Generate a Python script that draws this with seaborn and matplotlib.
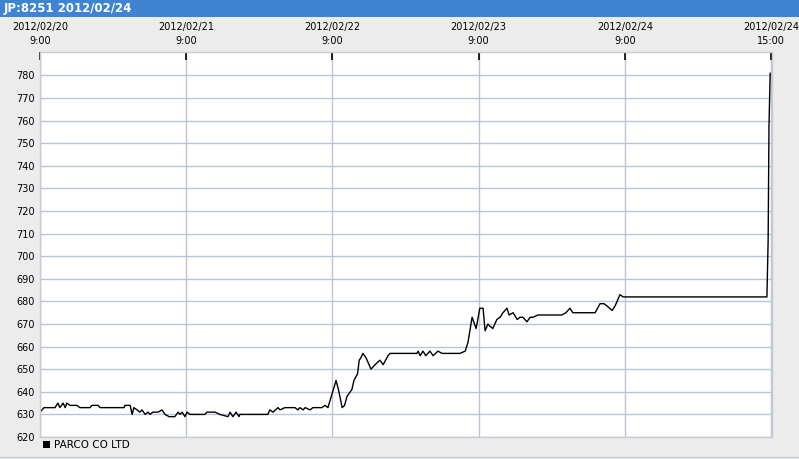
import matplotlib
matplotlib.use("Agg")
import matplotlib.pyplot as plt
import matplotlib.patches as mpatches
import seaborn as sns
import pandas as pd

# Session minutes since 2012/02/20 9:00 (each trading day = 360 minutes, 9:00-15:00)
minutes = [
    0, 10, 37, 44, 49, 57, 62, 66, 74, 91, 98, 123, 128, 143, 148, 207, 209, 222, 227, 231,
    239, 246, 251, 259, 266, 271, 278, 291, 300, 308, 318, 332, 340, 345, 350, 357,
    362, 369, 406, 411, 431, 443, 463, 468, 475, 483, 490, 492, 561, 566, 574, 586, 591,
    603, 628, 635, 640, 648, 653, 665, 672, 694, 702, 709,
    719, 729, 735, 744, 750, 756, 768, 773, 782, 786, 790, 795, 803, 815, 825, 837, 845,
    857, 862, 928, 931, 936, 943, 950, 960, 968, 980, 990, 1034, 1047, 1054, 1064, 1074,
    1083, 1091, 1096, 1103, 1108, 1115, 1125, 1133, 1140, 1150, 1155, 1165, 1175, 1182,
    1189, 1199, 1207, 1214, 1226, 1285, 1295, 1305, 1312, 1325, 1367, 1379, 1389, 1396,
    1409, 1416, 1421, 1428, 1436,
    1441, 1790, 1793, 1795, 1798,
]
prices = [
    631, 633, 633, 635, 633, 635, 633, 635, 634, 634, 633, 633, 634, 634, 633, 633, 634, 634, 630, 633,
    632, 631, 632, 630, 631, 630, 631, 631, 632, 630, 629, 629, 631, 630, 631, 629,
    631, 630, 630, 631, 631, 630, 629, 631, 629, 631, 629, 630, 630, 632, 631, 633, 632,
    633, 633, 632, 633, 632, 633, 632, 633, 633, 634, 633,
    639, 645, 641, 633, 634, 638, 641, 645, 648, 654, 655, 657, 655, 650, 652, 654, 652,
    656, 657, 657, 658, 656, 658, 656, 658, 656, 658, 657, 657, 658, 662, 673, 668,
    677, 677, 667, 670, 669, 668, 672, 673, 675, 677, 674, 675, 672, 673,
    673, 671, 673, 673, 674, 674, 675, 677, 675, 675, 675, 679, 679, 678,
    676, 678, 680, 683, 682,
    682, 682, 707, 757, 781,
]
tick_minutes = [0, 360, 720, 1080, 1440, 1800]
tick_labels = ["2012/02/20\n9:00", "2012/02/21\n9:00", "2012/02/22\n9:00",
               "2012/02/23\n9:00", "2012/02/24\n9:00", "2012/02/24\n15:00"]
y_ticks = list(range(620, 790, 10))
series_name = "PARCO CO LTD"
title = "JP:8251 2012/02/24"

df = pd.DataFrame({"t": minutes, "price": prices})

W, H = 799, 459
fig = plt.figure(figsize=(W / 100, H / 100), dpi=100, facecolor="#ececec")
ax = fig.add_axes([40 / W, (H - 437) / H, 732 / W, 385 / H])
ax.set_facecolor("white")

grid_c = "#b9c5d6"
for yv in y_ticks:
    ax.axhline(yv, color=grid_c, lw=1, zorder=0)
for xv in tick_minutes:
    ax.axvline(xv, color=grid_c, lw=1, zorder=0)

sns.lineplot(data=df, x="t", y="price", ax=ax, color="black", linewidth=1.0,
             estimator=None, sort=False, legend=False)

ax.set_xlim(0, 1802.5)
ax.set_ylim(620, 790.4)
ax.set_xlabel("")
ax.set_ylabel("")

ax.xaxis.tick_top()
ax.set_xticks(tick_minutes)
ax.set_xticklabels(tick_labels, fontsize=7, linespacing=1.5)
ax.tick_params(axis="x", direction="in", length=6, width=1.2, color="black", pad=4,
               top=True, bottom=False)
ax.set_yticks(y_ticks)
ax.set_yticklabels([str(v) for v in y_ticks], fontsize=7)
ax.tick_params(axis="y", length=0, pad=4)

for s in ax.spines.values():
    s.set_color("#c8ccd2")
    s.set_linewidth(1)

# title bar
fig.patches.append(mpatches.Rectangle((0, (H - 17) / H), 1, 17 / H, transform=fig.transFigure,
                                      facecolor="#3e84d2", edgecolor="none", zorder=0))
fig.text(4 / W, (H - 8.5) / H, title, color="white", fontsize=8.5, fontweight="bold",
         va="center", ha="left")

# legend
fig.patches.append(mpatches.Rectangle((43 / W, (H - 448) / H), 7 / W, 7 / H,
                                      transform=fig.transFigure, facecolor="black",
                                      edgecolor="none"))
fig.text(54 / W, (H - 444.5) / H, series_name, fontsize=7.5, va="center", ha="left")

# bottom border line
fig.lines.append(plt.Line2D([0, 1], [(H - 456.5) / H] * 2, transform=fig.transFigure,
                            color="#c2cad6", lw=1))

fig.savefig("out.png", dpi=100, facecolor=fig.get_facecolor())
